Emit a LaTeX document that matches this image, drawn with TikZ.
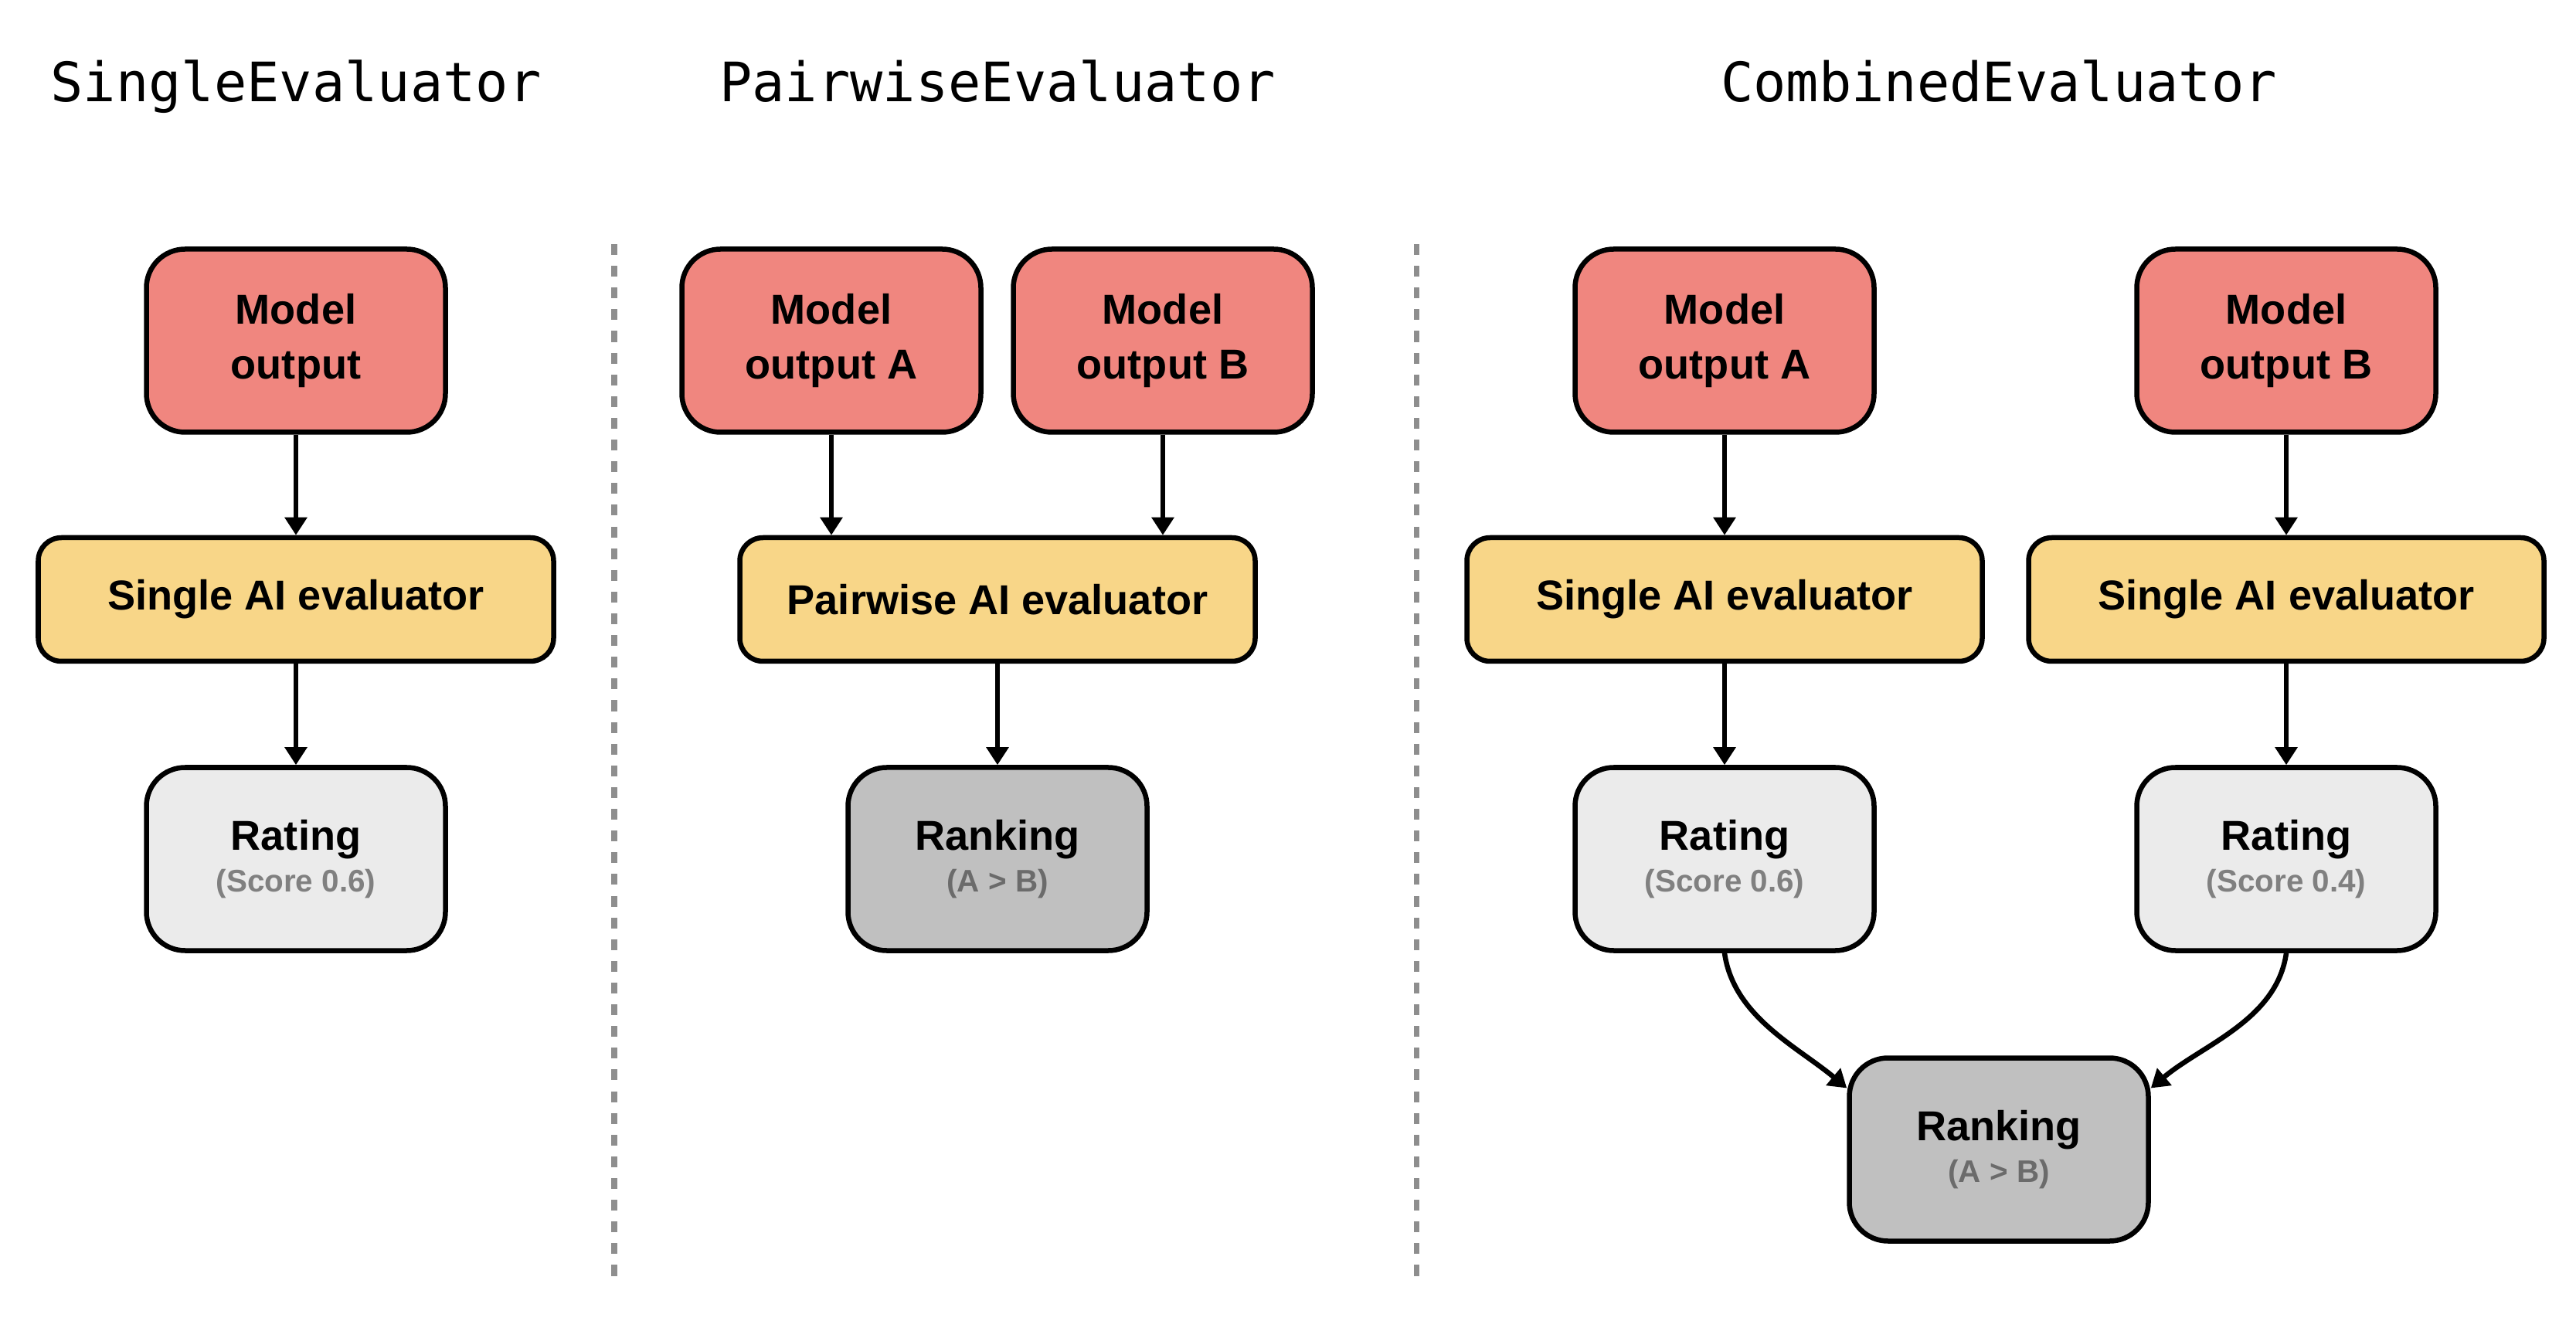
\documentclass[tikz,border=0pt]{standalone}
\usepackage{fontspec}
\setmainfont{Liberation Sans}
\newfontfamily\codefont{DejaVu Sans Mono}
\usetikzlibrary{arrows.meta}

\definecolor{modelred}{HTML}{F0867F}
\definecolor{evalyellow}{HTML}{F8D688}
\definecolor{ratinggray}{HTML}{EBEBEB}
\definecolor{rankgray}{HTML}{C0C0C0}
\definecolor{subgray}{HTML}{808080}
\definecolor{subdark}{HTML}{6B6B6B}
\definecolor{sepgray}{HTML}{8E8E8E}

\newcommand{\boxfont}{\fontsize{15.4}{20}\selectfont\bfseries}
\newcommand{\subfont}{\fontsize{11.5}{13}\selectfont\bfseries}

\tikzset{
  box/.style={draw, line width=1.85pt, align=center, font=\boxfont},
  model/.style={box, fill=modelred, rounded corners=0.5cm, minimum width=3.87cm, minimum height=2.37cm},
  evaluator/.style={box, fill=evalyellow, rounded corners=0.3cm, minimum width=6.67cm, minimum height=1.6cm},
  rating/.style={box, fill=ratinggray, rounded corners=0.5cm, minimum width=3.87cm, minimum height=2.37cm},
  ranking/.style={rating, fill=rankgray},
  title/.style={anchor=base, font=\codefont\fontsize{20}{24}\selectfont},
  flow/.style={-{Triangle[length=0.23cm, width=0.28cm]}, line width=1.85pt},
  sep/.style={sepgray, line width=2pt, dash pattern=on 4pt off 4pt},
}

\begin{document}
\begin{tikzpicture}[node distance=3.35cm]

    \useasboundingbox (0,0) rectangle (33.34,-17.10);

    % Titles
    \node [title] (t1) at (3.83,-1.32) {SingleEvaluator};
    \node [title] (t2) at (12.91,-1.32) {PairwiseEvaluator};
    \node [title] (t3) at (25.87,-1.32) {CombinedEvaluator};

    % Separators
    \draw [sep] (7.95,-3.16) -- (7.95,-16.52);
    \draw [sep] (18.33,-3.16) -- (18.33,-16.52);

    % Single
    \node [model] (m1) at (3.83,-4.41) {Model\\output};
    \node [evaluator, below of=m1] (e1) {Single AI evaluator};
    \node [rating, below of=e1, node distance=3.36cm] (r1) {Rating\\[-4.4pt]{\subfont\color{subgray}(Score 0.6)}};

    % Pairwise
    \node [model] (mA) at (10.76,-4.41) {Model\\output A};
    \node [model] (mB) at (15.05,-4.41) {Model\\output B};
    \node [evaluator] (e2) at (12.91,-7.76) {Pairwise AI evaluator};
    \node [ranking, below of=e2, node distance=3.36cm] (k2) {Ranking\\[-4.4pt]{\subfont\color{subdark}(A > B)}};

    % Combined
    \node [model] (mC) at (22.32,-4.41) {Model\\output A};
    \node [model] (mD) at (29.59,-4.41) {Model\\output B};
    \node [evaluator, below of=mC] (e3) {Single AI evaluator};
    \node [evaluator, below of=mD] (e4) {Single AI evaluator};
    \node [rating, below of=e3, node distance=3.36cm] (r3) {Rating\\[-4.4pt]{\subfont\color{subgray}(Score 0.6)}};
    \node [rating, below of=e4, node distance=3.36cm] (r4) {Rating\\[-4.4pt]{\subfont\color{subgray}(Score 0.4)}};
    \node [ranking] (k3) at (25.87,-14.88) {Ranking\\[-4.4pt]{\subfont\color{subdark}(A > B)}};

    % Arrows
    \draw [flow] (m1) -- (e1);
    \draw [flow] (e1) -- (r1);
    \draw [flow] (mA) -- (mA |- e2.north);
    \draw [flow] (mB) -- (mB |- e2.north);
    \draw [flow] (e2) -- (k2);
    \draw [flow] (mC) -- (e3);
    \draw [flow] (mD) -- (e4);
    \draw [flow] (e3) -- (r3);
    \draw [flow] (e4) -- (r4);
    \draw [flow] (r3.south) to [out=-82, in=140, looseness=0.9] (k3.158);
    \draw [flow] (r4.south) to [out=-98, in=40, looseness=0.9] (k3.22);

\end{tikzpicture}
\end{document}
